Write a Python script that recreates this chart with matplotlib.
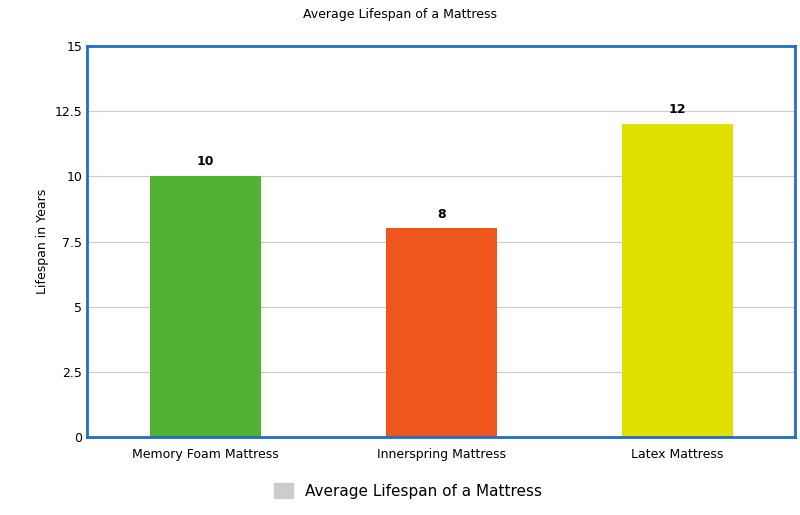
import matplotlib
matplotlib.use("Agg")
import matplotlib.pyplot as plt
from matplotlib.patches import Patch

categories = ["Memory Foam Mattress", "Innerspring Mattress", "Latex Mattress"]
values = [10, 8, 12]
colors = ["#52b233", "#ee561e", "#dfe000"]
yticks = [0, 2.5, 5, 7.5, 10, 12.5, 15]

fig = plt.figure(figsize=(8, 5.15), dpi=100)
ax = fig.add_axes([0.109, 0.151, 0.885, 0.76])
x = range(len(categories))
ax.bar(x, values, width=0.47, color=colors, zorder=2)
for i, v in zip(x, values):
    ax.text(i, v + 0.3, str(v), ha="center", va="bottom", fontsize=9, fontweight="bold")
ax.set_xlim(-0.5, 2.5)
ax.set_ylim(0, 15)
ax.set_yticks(yticks)
ax.set_yticklabels(["0", "2.5", "5", "7.5", "10", "12.5", "15"], fontsize=9)
ax.set_xticks(list(x))
ax.set_xticklabels(categories, fontsize=9)
ax.tick_params(axis="x", length=0, pad=8)
ax.tick_params(axis="y", length=0)
ax.yaxis.grid(True, color="#cccccc", zorder=0)
for s in ax.spines.values():
    s.set_color("#1f6fc0"); s.set_linewidth(2)
ax.set_ylabel("Lifespan in Years", fontsize=9)
fig.suptitle("Average Lifespan of a Mattress", y=0.985, fontsize=9)
fig.legend(handles=[Patch(color="#cccccc")], labels=["Average Lifespan of a Mattress"],
           loc="lower center", bbox_to_anchor=(0.51, 0.005), frameon=False, fontsize=11,
           handlelength=1.2, handleheight=1.2)
fig.savefig("out.png")
